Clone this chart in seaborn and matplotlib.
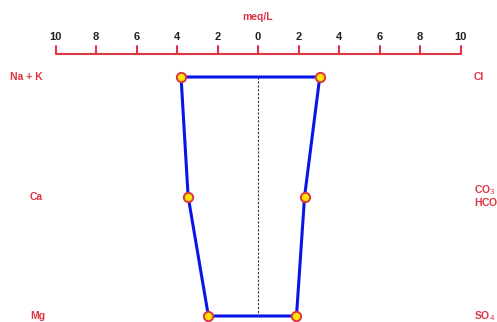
import matplotlib
matplotlib.use("Agg")
import matplotlib.pyplot as plt
import numpy as np
import pandas as pd
import seaborn as sns

# Stiff diagram: cations on the left, anions on the right (meq/L)
cations = ["Na + K", "Ca", "Mg"]
cation_values = [3.8, 3.45, 2.45]
anions = ["Cl", "CO$_3$\nHCO$_3$", "SO$_4$"]
anion_values = [3.05, 2.3, 1.9]
tick_values = [-10, -8, -6, -4, -2, 0, 2, 4, 6, 8, 10]
tick_labels = ["10", "8", "6", "4", "2", "0", "2", "4", "6", "8", "10"]

sns.set_theme(style="white")
plt.rcParams["font.family"] = ["Liberation Sans", "DejaVu Sans"]

RED = "#dc3545"
BLUE = "#0a14e6"

fig = plt.figure(figsize=(4.97, 3.22), dpi=100)
ax = fig.add_axes([0, 0, 1, 1])
ax.set_axis_off()

px = 20.25  # pixels per meq/L
ax.set_xlim(-258 / px, (497 - 258) / px)
row_px = 119.5
ax.set_ylim((322 - 77) / row_px, -77 / row_px)

rows = np.arange(len(cations))

# closed polygon: down the cation side, back up the anion side
poly = pd.DataFrame({
    "x": [-v for v in cation_values] + anion_values[::-1] + [-cation_values[0]],
    "y": list(rows) + list(rows[::-1]) + [rows[0]],
})

# central zero line
ax.plot([0, 0], [rows[0], rows[-1]], color="#333333", lw=0.8, ls=(0, (2, 1.5)), zorder=1)

sns.lineplot(data=poly, x="x", y="y", sort=False, estimator=None, color=BLUE,
             lw=2.2, ax=ax, zorder=2)

pts = pd.DataFrame({
    "x": [-v for v in cation_values] + anion_values,
    "y": list(rows) + list(rows),
})
sns.scatterplot(data=pts, x="x", y="y", s=45, color="#ffe600", edgecolor=RED,
                linewidth=1.4, ax=ax, zorder=3)

# scale bar at the top
y_axis = -23 / row_px
tick_len = 8 / row_px
ax.plot([tick_values[0], tick_values[-1]], [y_axis, y_axis], color=RED, lw=1.5,
        solid_capstyle="butt")
for t, lab in zip(tick_values, tick_labels):
    ax.plot([t, t], [y_axis, y_axis - tick_len], color=RED, lw=1.5)
    ax.text(t, -40 / row_px, lab, ha="center", va="center", fontsize=8,
            fontweight="bold", color="#222222")
ax.text(0, -60 / row_px, "meq/L", ha="center", va="center", fontsize=7.5,
        fontweight="bold", color=RED)

# ion labels
for r, name in zip(rows, cations):
    x0 = 10 if name == "Na + K" else 30
    ax.text((x0 - 258) / px, r, name, ha="left", va="center", fontsize=7.5,
            fontweight="bold", color=RED)
right_x = (474 - 258) / px
for r, name in zip(rows, anions):
    ax.text(right_x, r, name, ha="left", va="center", fontsize=7.5,
            fontweight="bold", color=RED, linespacing=0.9)

ax.set_xlabel("")
ax.set_ylabel("")
fig.savefig("out.png", dpi=100)
